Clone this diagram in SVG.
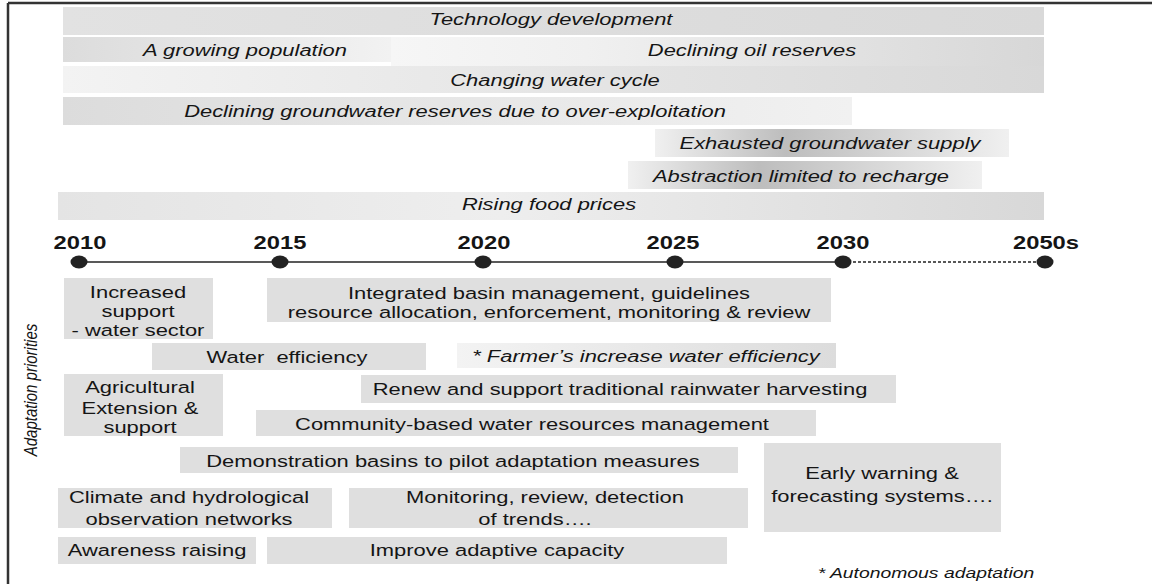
<svg xmlns="http://www.w3.org/2000/svg" width="1152" height="584" viewBox="0 0 1152 584">
<style>
.t{font-family:"Liberation Sans",Arial,sans-serif;font-size:17px;fill:#151515;text-anchor:middle}
.i{font-style:italic}
.y{font-family:"Liberation Sans",Arial,sans-serif;font-size:19px;font-weight:bold;fill:#151515;text-anchor:middle}
.box{fill:#dfdfdf}
.dot{fill:#222}
</style>
<defs>
<linearGradient id="gTech" x1="0" x2="1" y1="0" y2="0"><stop offset="0" stop-color="#e2e2e2"/><stop offset="1" stop-color="#d9d9d9"/></linearGradient>
<linearGradient id="gPop" x1="0" x2="1" y1="0" y2="0"><stop offset="0" stop-color="#dcdcdc"/><stop offset="1" stop-color="#f2f2f2"/></linearGradient>
<linearGradient id="gOil" x1="0" x2="1" y1="0" y2="0"><stop offset="0" stop-color="#f6f6f6"/><stop offset="0.3" stop-color="#f0f0f0"/><stop offset="1" stop-color="#d7d7d7"/></linearGradient>
<linearGradient id="gCycle" x1="0" x2="1" y1="0" y2="0"><stop offset="0" stop-color="#f3f3f3"/><stop offset="1" stop-color="#d8d8d8"/></linearGradient>
<linearGradient id="gGw" x1="0" x2="1" y1="0" y2="0"><stop offset="0" stop-color="#dcdcdc"/><stop offset="1" stop-color="#f1f1f1"/></linearGradient>
<linearGradient id="gPeak" x1="0" x2="1" y1="0" y2="0"><stop offset="0" stop-color="#f0f0f0"/><stop offset="0.37" stop-color="#bdbdbd"/><stop offset="1" stop-color="#f0f0f0"/></linearGradient>
<linearGradient id="gFood" x1="0" x2="1" y1="0" y2="0"><stop offset="0" stop-color="#e4e4e4"/><stop offset="0.45" stop-color="#eeeeee"/><stop offset="1" stop-color="#d8d8d8"/></linearGradient>
<linearGradient id="gFarm" x1="0" x2="1" y1="0" y2="0"><stop offset="0" stop-color="#f3f3f3"/><stop offset="1" stop-color="#dcdcdc"/></linearGradient>
</defs>
<rect width="1152" height="584" fill="#fff"/>
<g id="frame" stroke="#333" stroke-width="2.5" fill="none">
<line x1="8" y1="3" x2="1152" y2="3"/>
<line x1="8" y1="3" x2="8" y2="584"/>
</g>

<g id="drivers">
<g id="tech"><rect x="63" y="7" width="981" height="28" fill="url(#gTech)"/><text class="t i" transform="matrix(1.29 0 0 1 551 0)" x="0" y="25">Technology development</text></g>
<g id="pop"><rect x="63" y="37" width="328" height="25" fill="url(#gPop)"/><text class="t i" transform="matrix(1.29 0 0 1 245 0)" x="0" y="56">A growing population</text></g>
<g id="oil"><rect x="391" y="37" width="653" height="29" fill="url(#gOil)"/><text class="t i" transform="matrix(1.29 0 0 1 752 0)" x="0" y="56">Declining oil reserves</text></g>
<g id="cycle"><rect x="63" y="66" width="981" height="27" fill="url(#gCycle)"/><text class="t i" transform="matrix(1.29 0 0 1 555 0)" x="0" y="86">Changing water cycle</text></g>
<g id="gw"><rect x="63" y="97" width="789" height="28" fill="url(#gGw)"/><text class="t i" transform="matrix(1.29 0 0 1 455 0)" x="0" y="117">Declining groundwater reserves due to over-exploitation</text></g>
<g id="exhausted"><rect x="655" y="129" width="354" height="28" fill="url(#gPeak)"/><text class="t i" transform="matrix(1.29 0 0 1 830 0)" x="0" y="149">Exhausted groundwater supply</text></g>
<g id="abstraction"><rect x="628" y="161" width="354" height="28" fill="url(#gPeak)"/><text class="t i" transform="matrix(1.29 0 0 1 801 0)" x="0" y="182">Abstraction limited to recharge</text></g>
<g id="food"><rect x="58" y="192" width="986" height="28" fill="url(#gFood)"/><text class="t i" transform="matrix(1.29 0 0 1 549 0)" x="0" y="210">Rising food prices</text></g>
</g>

<g id="connectors" stroke="#222" stroke-width="1.3" fill="none">
<line x1="79" y1="262" x2="843" y2="262"/>
<line x1="843" y1="262" x2="1045" y2="262" stroke-dasharray="3 2"/>
</g>

<g id="timeline">
<g id="y2010"><text class="y" transform="matrix(1.25 0 0 1 80 0)" x="0" y="249">2010</text><ellipse class="dot" cx="79" cy="262" rx="8.5" ry="6.5"/></g>
<g id="y2015"><text class="y" transform="matrix(1.25 0 0 1 280 0)" x="0" y="249">2015</text><ellipse class="dot" cx="280" cy="262" rx="8.5" ry="6.5"/></g>
<g id="y2020"><text class="y" transform="matrix(1.25 0 0 1 484 0)" x="0" y="249">2020</text><ellipse class="dot" cx="483" cy="262" rx="8.5" ry="6.5"/></g>
<g id="y2025"><text class="y" transform="matrix(1.25 0 0 1 673 0)" x="0" y="249">2025</text><ellipse class="dot" cx="675" cy="262" rx="8.5" ry="6.5"/></g>
<g id="y2030"><text class="y" transform="matrix(1.25 0 0 1 843 0)" x="0" y="249">2030</text><ellipse class="dot" cx="843" cy="262" rx="8.5" ry="6.5"/></g>
<g id="y2050"><text class="y" transform="matrix(1.25 0 0 1 1046 0)" x="0" y="249">2050s</text><ellipse class="dot" cx="1045" cy="262" rx="8.5" ry="6.5"/></g>
</g>

<g id="axis-label"><text class="t i" style="font-size:15px" transform="translate(31 390) scale(1.25 1) rotate(-90)" x="0" y="5">Adaptation priorities</text></g>

<g id="priorities">
<g id="n-support"><rect class="box" x="64" y="278" width="149" height="61"/>
<text class="t" transform="matrix(1.29 0 0 1 138 0)" x="0" y="298">Increased</text>
<text class="t" transform="matrix(1.29 0 0 1 138 0)" x="0" y="317">support</text>
<text class="t" transform="matrix(1.29 0 0 1 138 0)" x="0" y="336">- water sector</text></g>
<g id="n-ibm"><rect class="box" x="267" y="278" width="564" height="44"/>
<text class="t" transform="matrix(1.29 0 0 1 549 0)" x="0" y="299">Integrated basin management, guidelines</text>
<text class="t" transform="matrix(1.29 0 0 1 549 0)" x="0" y="318">resource allocation, enforcement, monitoring &amp; review</text></g>
<g id="n-wateff"><rect class="box" x="152" y="343" width="274" height="27"/>
<text class="t" style="white-space:pre" transform="matrix(1.29 0 0 1 287 0)" x="0" y="363">Water  efficiency</text></g>
<g id="n-farmer"><rect x="457" y="343" width="379" height="25" fill="url(#gFarm)"/>
<text class="t i" transform="matrix(1.29 0 0 1 646 0)" x="0" y="362">* Farmer’s increase water efficiency</text></g>
<g id="n-agri"><rect class="box" x="64" y="374" width="159" height="62"/>
<text class="t" transform="matrix(1.29 0 0 1 140 0)" x="0" y="393">Agricultural</text>
<text class="t" transform="matrix(1.29 0 0 1 140 0)" x="0" y="414">Extension &amp;</text>
<text class="t" transform="matrix(1.29 0 0 1 140 0)" x="0" y="433">support</text></g>
<g id="n-rain"><rect class="box" x="361" y="375" width="535" height="28"/>
<text class="t" transform="matrix(1.29 0 0 1 620 0)" x="0" y="395">Renew and support traditional rainwater harvesting</text></g>
<g id="n-community"><rect class="box" x="256" y="410" width="560" height="26"/>
<text class="t" transform="matrix(1.29 0 0 1 532 0)" x="0" y="430">Community-based water resources management</text></g>
<g id="n-demo"><rect class="box" x="180" y="447" width="558" height="26"/>
<text class="t" transform="matrix(1.29 0 0 1 453 0)" x="0" y="467">Demonstration basins to pilot adaptation measures</text></g>
<g id="n-early"><rect class="box" x="764" y="443" width="237" height="89"/>
<text class="t" transform="matrix(1.29 0 0 1 882 0)" x="0" y="479">Early warning &amp;</text>
<text class="t" transform="matrix(1.29 0 0 1 882 0)" x="0" y="502">forecasting systems….</text></g>
<g id="n-climate"><rect class="box" x="58" y="488" width="274" height="40"/>
<text class="t" transform="matrix(1.29 0 0 1 189 0)" x="0" y="503">Climate and hydrological</text>
<text class="t" transform="matrix(1.29 0 0 1 189 0)" x="0" y="525">observation networks</text></g>
<g id="n-monitor"><rect class="box" x="349" y="488" width="399" height="40"/>
<text class="t" transform="matrix(1.29 0 0 1 545 0)" x="0" y="503">Monitoring, review, detection</text>
<text class="t" transform="matrix(1.29 0 0 1 535 0)" x="0" y="525">of trends….</text></g>
<g id="n-aware"><rect class="box" x="58" y="537" width="198" height="27"/>
<text class="t" transform="matrix(1.29 0 0 1 157 0)" x="0" y="556">Awareness raising</text></g>
<g id="n-capacity"><rect class="box" x="267" y="537" width="460" height="27"/>
<text class="t" transform="matrix(1.29 0 0 1 497 0)" x="0" y="556">Improve adaptive capacity</text></g>
</g>

<g id="note"><text class="t i" style="font-size:15px" transform="matrix(1.29 0 0 1 926 0)" x="0" y="578">* Autonomous adaptation</text></g>
</svg>
